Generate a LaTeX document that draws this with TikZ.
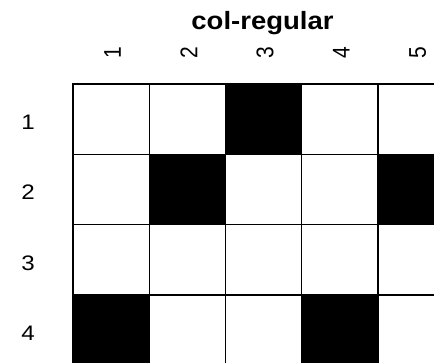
\documentclass[tikz,border=0pt]{standalone}
\usepackage{fontspec}
\setmainfont{Liberation Sans}
\begin{document}
\begin{tikzpicture}[x=1pt,y=-1pt,
  lab/.style={font=\fontsize{21}{23}\selectfont, inner sep=0pt},
  ttl/.style={font=\fontsize{25}{28}\selectfont\bfseries, inner sep=0pt},
  gridline/.style={draw=black, line width=1.3pt}]
\useasboundingbox (0,0) rectangle (434,363);
\def\cw{76.25}
\def\rh{70.33}
\begin{scope}
\clip (0,0) rectangle (434,363);
\foreach \r/\c in {1/3,2/2,2/5,4/1,4/4}
  \fill[black] ({73+(\c-1)*\cw},{84+(\r-1)*\rh}) rectangle ++(\cw,\rh);
\foreach \r in {1,...,4}
  \foreach \c in {1,...,5}
    \draw[gridline] ({73+(\c-1)*\cw},{84+(\r-1)*\rh}) rectangle ++(\cw,\rh);
\end{scope}
\node[ttl, anchor=base] (title) at (262.5,30) {\scalebox{1.1}[1]{col-regular}};
\foreach \r in {1,...,4}
  \node[lab, anchor=base] (r\r) at (28,{84+(\r-0.5)*\rh+10.5}) {\scalebox{1.15}[1]{\r}};
\foreach \c in {1,...,5}
  \node[lab] (c\c) at ({73+(\c-0.5)*\cw+1.5},53) {\scalebox{1.15}[1]{\rotatebox{90}{\c}}};
\end{tikzpicture}
\end{document}
